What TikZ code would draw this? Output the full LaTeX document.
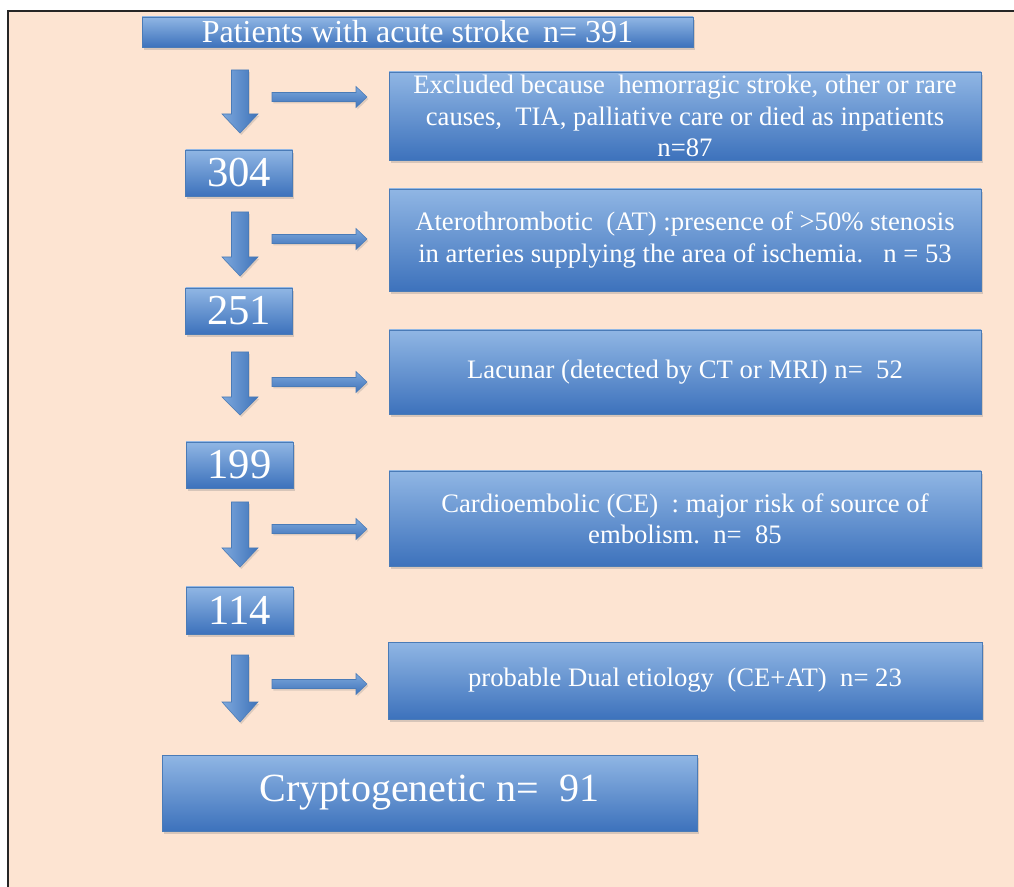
\documentclass[tikz,border=0pt]{standalone}
\usepackage{fontspec}
\setmainfont{Liberation Serif}
\usetikzlibrary{shadows}
\definecolor{peach}{HTML}{FDE4D2}
\definecolor{boxtop}{HTML}{90B6E4}
\definecolor{boxbot}{HTML}{3D72BC}
\definecolor{boxedge}{HTML}{4A7BB7}
\definecolor{arrlight}{HTML}{7EA8DC}
\definecolor{arrdark}{HTML}{3E73BA}
\tikzset{
  box/.style={draw=boxedge, line width=0.5pt, top color=boxtop, bottom color=boxbot,
    text=white, align=center, inner sep=0pt,
    font=\fontsize{20}{23.5}\selectfont,
    drop shadow={opacity=0.3, shadow xshift=1.2pt, shadow yshift=-2pt}},
  numbox/.style={box, minimum width=80.25pt, minimum height=34.5pt, font=\fontsize{32}{36}\selectfont},
  sidebox/.style={box, minimum width=444pt},
  darrowfill/.style={draw=boxedge, line width=0.4pt, left color=arrlight, right color=arrdark,
    drop shadow={opacity=0.25, shadow xshift=1pt, shadow yshift=-1.5pt}},
  harrowfill/.style={draw=boxedge, line width=0.4pt, top color=arrlight, bottom color=arrdark,
    drop shadow={opacity=0.25, shadow xshift=1pt, shadow yshift=-1.5pt}},
  frameline/.style={draw=black!85, line width=1.5pt}
}
\newcommand{\darr}[3]{\path[darrowfill] (231.5,#1) -- (248.5,#1) -- (248.5,#2) -- (258,#2) -- (240,#3) -- (222,#2) -- (231.5,#2) -- cycle;}
\newcommand{\harr}[1]{\path[harrowfill] (272,#1-4.5) -- (356,#1-4.5) -- (356,#1-10.5) -- (367,#1) -- (356,#1+10.5) -- (356,#1+4.5) -- (272,#1+4.5) -- cycle;}
\begin{document}
\begin{tikzpicture}[x=0.75pt,y=-0.75pt]
\useasboundingbox (0,0) rectangle (1014,887);
\fill[white] (0,0) rectangle (1014,887);
\fill[peach] (8,11) rectangle (1016,889);
\draw[frameline] (8,889) -- (8,11) -- (1016,11);

% boxes
\node[box, minimum width=413.25pt, minimum height=22.5pt, font=\fontsize{24}{26}\selectfont] (top) at (417.5,32) {Patients with acute stroke\, n= 391};
\node[sidebox, minimum height=66pt] (excl) at (685,116) {Excluded because\ \ hemorragic stroke, other or rare\\causes,\ \ TIA, palliative care or died as inpatients\\n=87};
\node[numbox] (n304) at (239,173) {304};
\node[sidebox, minimum height=76.5pt] (at) at (685,240) {Aterothrombotic\ \ (AT) :presence of >50\% stenosis\\in arteries supplying the area of ischemia.\ \ \ n = 53};
\node[numbox] (n251) at (239,311) {251};
\node[sidebox, minimum height=63pt] (lac) at (685,372) {Lacunar (detected by CT or MRI) n=\ \ 52};
\node[numbox] (n199) at (239.5,465) {199};
\node[sidebox, minimum height=71.25pt] (ce) at (685,518.5) {Cardioembolic (CE)\ \ : major risk of source of\\embolism.\ \ n=\ \ 85};
\node[numbox, minimum height=35.25pt] (n114) at (239.5,610.5) {114};
\node[sidebox, minimum width=445.5pt, minimum height=57.75pt] (dual) at (685,680.5) {probable Dual etiology\ \ (CE+AT)\ \ n= 23};
\node[box, minimum width=401.25pt, minimum height=57pt, font=\fontsize{30}{34}\selectfont] (crypt) at (429.5,793) {Cryptogenetic n=\ \ 91};

% down arrows
\darr{70}{114}{133}
\darr{212}{257}{276}
\darr{352}{397}{415}
\darr{502}{548}{567}
\darr{655}{702}{722}

% side arrows
\harr{97}
\harr{239}
\harr{382}
\harr{529}
\harr{684}
\end{tikzpicture}
\end{document}
